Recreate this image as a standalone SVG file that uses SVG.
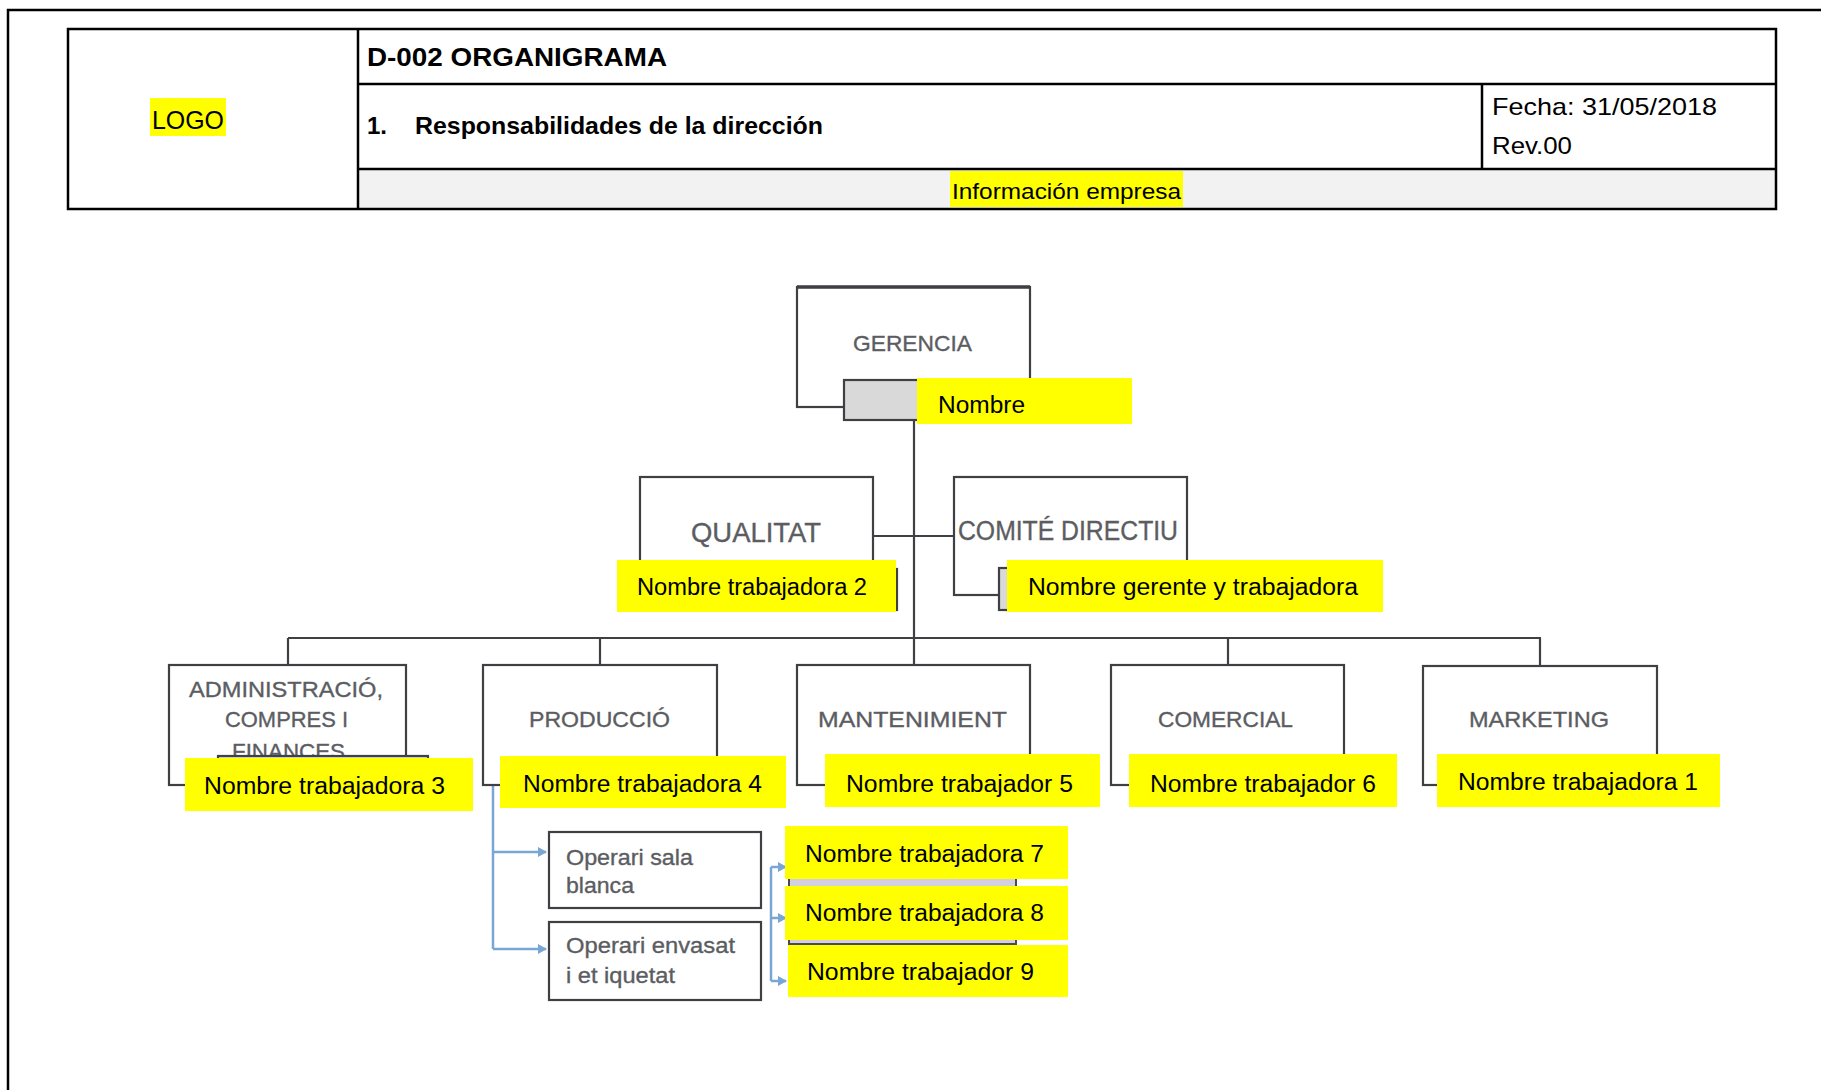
<svg xmlns="http://www.w3.org/2000/svg" width="1821" height="1090" viewBox="0 0 1821 1090">
<style>
  .frame{fill:none;stroke:#000;stroke-width:2.5}
  .tbl{fill:none;stroke:#000;stroke-width:2.5}
  .hd{font-family:"Liberation Sans",Arial,sans-serif;fill:#000}
  .b{font-weight:bold}
  .hl{fill:#ffff00}
  .box{fill:#fff;stroke:#3f4044;stroke-width:2.2}
  .sub{fill:#d9d9d9;stroke:#3f4044;stroke-width:2.2}
  .org{font-family:"Liberation Sans",Arial,sans-serif;fill:#5b5d62;stroke:#5b5d62;stroke-width:0.35}
  .nm{font-family:"Liberation Sans",Arial,sans-serif;font-size:23px;fill:#000}
  .ln{fill:none;stroke:#3f4044;stroke-width:2.2}
  .bl{fill:none;stroke:#7aa6d6;stroke-width:2.5}
</style>
<defs>
  <marker id="ah" markerUnits="userSpaceOnUse" markerWidth="10" markerHeight="10" refX="8" refY="5" orient="auto">
    <path d="M0,0 L9,5 L0,10 z" fill="#7aa6d6"/>
  </marker>
</defs>
<rect x="0" y="0" width="1821" height="1090" fill="#fff"/>
<!-- outer frame -->
<path class="frame" d="M8,1095 L8,10 L1830,10"/>

<!-- header table -->
<g id="header">
  <rect x="358" y="169" width="1418" height="40" fill="#f2f2f2"/>
  <rect class="tbl" x="68" y="29" width="1708" height="180"/>
  <line class="tbl" x1="358" y1="29" x2="358" y2="209"/>
  <line class="tbl" x1="358" y1="84" x2="1776" y2="84"/>
  <line class="tbl" x1="358" y1="169" x2="1776" y2="169"/>
  <line class="tbl" x1="1482" y1="84" x2="1482" y2="169"/>
  <rect class="hl" x="150" y="98" width="76" height="38"/>
  <text class="hd" x="152" y="129" font-size="26" textLength="72" lengthAdjust="spacingAndGlyphs">LOGO</text>
  <text class="hd b" x="367" y="66" font-size="25" textLength="300" lengthAdjust="spacingAndGlyphs">D-002 ORGANIGRAMA</text>
  <text class="hd b" x="367" y="134" font-size="24">1.</text>
  <text class="hd b" x="415" y="134" font-size="24" textLength="408" lengthAdjust="spacingAndGlyphs">Responsabilidades de la dirección</text>
  <text class="hd" x="1492" y="115" font-size="24" textLength="225" lengthAdjust="spacingAndGlyphs">Fecha: 31/05/2018</text>
  <text class="hd" x="1492" y="154" font-size="24" textLength="80" lengthAdjust="spacingAndGlyphs">Rev.00</text>
  <rect class="hl" x="950" y="171" width="233" height="36"/>
  <text class="hd" x="952" y="199" font-size="22" textLength="229" lengthAdjust="spacingAndGlyphs">Información empresa</text>
</g>

<!-- connectors -->
<g id="connectors">
  <line class="ln" x1="914" y1="420" x2="914" y2="638"/>
  <line class="ln" x1="873" y1="536" x2="954" y2="536"/>
  <line class="ln" x1="288" y1="638" x2="1541" y2="638"/>
  <line class="ln" x1="288" y1="638" x2="288" y2="665"/>
  <line class="ln" x1="600" y1="638" x2="600" y2="665"/>
  <line class="ln" x1="914" y1="638" x2="914" y2="665"/>
  <line class="ln" x1="1228" y1="638" x2="1228" y2="665"/>
  <line class="ln" x1="1540" y1="638" x2="1540" y2="666" stroke-width="3"/>
  <path class="bl" d="M493,786 L493,949"/>
  <path class="bl" d="M493,852 L546,852" marker-end="url(#ah)"/>
  <path class="bl" d="M493,949 L546,949" marker-end="url(#ah)"/>
  <path class="bl" d="M771,867 L771,981"/>
  <path class="bl" d="M771,867 L786,867" marker-end="url(#ah)"/>
  <path class="bl" d="M771,918 L786,918" marker-end="url(#ah)"/>
  <path class="bl" d="M771,981 L786,981" marker-end="url(#ah)"/>
</g>

<g id="gerencia">
  <rect class="box" x="797" y="287" width="233" height="120"/>
  <line x1="797" y1="287" x2="1030" y2="287" stroke="#3f4044" stroke-width="3.5"/>
  <text class="org" x="853" y="351" font-size="22" textLength="119" lengthAdjust="spacingAndGlyphs">GERENCIA</text>
  <rect class="sub" x="844" y="380" width="140" height="40"/>
  <rect class="hl" x="917" y="378" width="215" height="46"/>
  <text class="nm" x="938" y="413" textLength="87" lengthAdjust="spacingAndGlyphs">Nombre</text>
</g>

<g id="qualitat">
  <rect class="box" x="640" y="477" width="233" height="118"/>
  <text class="org" x="691" y="542" font-size="28" textLength="130" lengthAdjust="spacingAndGlyphs">QUALITAT</text>
  <rect class="sub" x="800" y="569" width="97" height="41"/>
  <rect class="hl" x="617" y="560" width="279" height="52"/>
  <text class="nm" x="637" y="595" font-size="22" textLength="230" lengthAdjust="spacingAndGlyphs">Nombre trabajadora 2</text>
</g>

<g id="comite">
  <rect class="box" x="954" y="477" width="233" height="118"/>
  <text class="org" x="958" y="540" font-size="27" textLength="220" lengthAdjust="spacingAndGlyphs">COMITÉ DIRECTIU</text>
  <rect class="sub" x="999" y="568" width="120" height="42"/>
  <rect class="hl" x="1007" y="560" width="376" height="52"/>
  <text class="nm" x="1028" y="595" textLength="330" lengthAdjust="spacingAndGlyphs">Nombre gerente y trabajadora</text>
</g>

<g id="administracio">
  <rect class="box" x="169" y="665" width="237" height="120"/>
  <text class="org" x="189" y="697" font-size="22" textLength="194" lengthAdjust="spacingAndGlyphs">ADMINISTRACIÓ,</text>
  <text class="org" x="225" y="727" font-size="22" textLength="123" lengthAdjust="spacingAndGlyphs">COMPRES I</text>
  <text class="org" x="232" y="759" font-size="22" textLength="113" lengthAdjust="spacingAndGlyphs">FINANCES</text>
  <rect class="sub" x="218" y="756" width="210" height="44" fill="#fff"/>
  <rect class="hl" x="185" y="758" width="288" height="53"/>
  <text class="nm" x="204" y="794" textLength="241" lengthAdjust="spacingAndGlyphs">Nombre trabajadora 3</text>
</g>

<g id="produccio">
  <rect class="box" x="483" y="665" width="234" height="120"/>
  <text class="org" x="529" y="727" font-size="22" textLength="141" lengthAdjust="spacingAndGlyphs">PRODUCCIÓ</text>
  <rect class="hl" x="500" y="756" width="286" height="52"/>
  <text class="nm" x="523" y="792" textLength="239" lengthAdjust="spacingAndGlyphs">Nombre trabajadora 4</text>
</g>

<g id="manteniment">
  <rect class="box" x="797" y="665" width="233" height="120"/>
  <text class="org" x="818" y="727" font-size="22" textLength="189" lengthAdjust="spacingAndGlyphs">MANTENIMIENT</text>
  <rect class="hl" x="825" y="754" width="275" height="53"/>
  <text class="nm" x="846" y="792" textLength="227" lengthAdjust="spacingAndGlyphs">Nombre trabajador 5</text>
</g>

<g id="comercial">
  <rect class="box" x="1111" y="665" width="233" height="120"/>
  <text class="org" x="1158" y="727" font-size="22" textLength="135" lengthAdjust="spacingAndGlyphs">COMERCIAL</text>
  <rect class="hl" x="1129" y="754" width="268" height="53"/>
  <text class="nm" x="1150" y="792" textLength="226" lengthAdjust="spacingAndGlyphs">Nombre trabajador 6</text>
</g>

<g id="marketing">
  <rect class="box" x="1423" y="666" width="234" height="119" stroke-width="2.8"/>
  <text class="org" x="1469" y="727" font-size="22" textLength="140" lengthAdjust="spacingAndGlyphs">MARKETING</text>
  <rect class="hl" x="1437" y="754" width="283" height="53"/>
  <text class="nm" x="1458" y="790" textLength="240" lengthAdjust="spacingAndGlyphs">Nombre trabajadora 1</text>
</g>

<g id="operari-sala">
  <rect class="box" x="549" y="832" width="212" height="76" stroke-width="2.8"/>
  <text class="org" x="566" y="865" font-size="22" textLength="127" lengthAdjust="spacingAndGlyphs">Operari sala</text>
  <text class="org" x="566" y="893" font-size="22" textLength="68" lengthAdjust="spacingAndGlyphs">blanca</text>
</g>

<g id="operari-envasat">
  <rect class="box" x="549" y="922" width="212" height="78" stroke="#5a5b5f"/>
  <text class="org" x="566" y="953" font-size="22" textLength="169" lengthAdjust="spacingAndGlyphs">Operari envasat</text>
  <text class="org" x="566" y="983" font-size="22" textLength="109" lengthAdjust="spacingAndGlyphs">i et iquetat</text>
</g>

<g id="treballadors">
  <rect x="789" y="876" width="227" height="68" fill="#d3cfe0" stroke="#4a4a55" stroke-width="2"/>
  <rect class="hl" x="785" y="826" width="283" height="53"/>
  <text class="nm" x="805" y="862" textLength="239" lengthAdjust="spacingAndGlyphs">Nombre trabajadora 7</text>
  <rect class="hl" x="785" y="886" width="283" height="54"/>
  <text class="nm" x="805" y="921" textLength="239" lengthAdjust="spacingAndGlyphs">Nombre trabajadora 8</text>
  <rect class="hl" x="788" y="945" width="280" height="52"/>
  <text class="nm" x="807" y="980" textLength="227" lengthAdjust="spacingAndGlyphs">Nombre trabajador 9</text>
</g>
</svg>
